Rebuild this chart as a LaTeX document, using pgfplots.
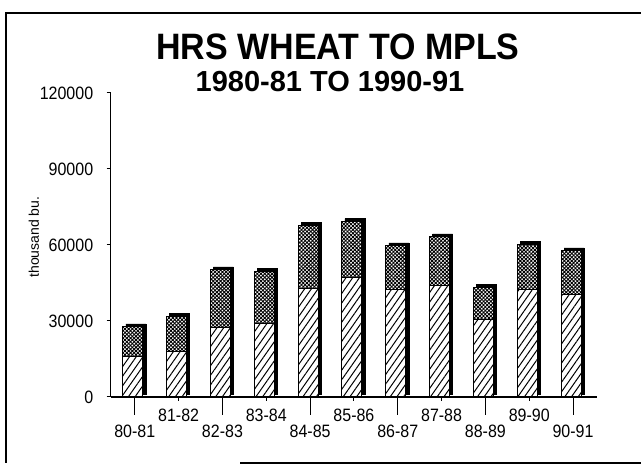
\documentclass[border=0pt]{standalone}
\usepackage{fontspec}
\setmainfont{Liberation Sans}
\usepackage{pgfplots}
\pgfplotsset{compat=1.18}
\usetikzlibrary{patterns,patterns.meta}
\begin{document}
\begin{tikzpicture}[x=1bp,y=1bp]
\path[use as bounding box] (0,0) rectangle (641,465);
% outer frame
\draw[line width=1.3bp] (641,452) -- (6,452) -- (6,2);
\draw[line width=1.3bp] (240,2) -- (641,2);
% titles
\node[font=\bfseries\fontsize{34bp}{34bp}\selectfont] at (338,418) {\scalebox{1}[1.08]{HRS WHEAT TO MPLS}};
\node[font=\bfseries\fontsize{29bp}{29bp}\selectfont] at (330,383) {1980-81 TO 1990-91};
\begin{axis}[
  at={(110.7bp,68bp)}, anchor=south west, scale only axis,
  width=486bp, height=304bp,
  xmin=-0.55, xmax=10.54, ymin=0, ymax=120000,
  axis x line*=bottom, axis y line*=left,
  axis line style={-, line width=1.3bp},
  major tick length=4bp, tick align=outside,
  tick style={line width=1bp, black},
  ytick={0,30000,60000,90000,120000}, scaled y ticks=false,
  yticklabel={\pgfmathprintnumber[fixed,precision=0,1000 sep={},assume math mode=true]{\tick}},
  yticklabel style={font=\fontsize{16bp}{16bp}\selectfont, anchor=east, xshift=-10bp, yscale=1.12},
  ylabel={thousand bu.},
  ylabel style={at={(rel axis cs:-0.158,0.526)}, anchor=center, font=\fontsize{14bp}{14bp}\selectfont},
  xtick={1,3,5,7,9},
  xticklabels={81-82,83-84,85-86,87-88,89-90},
  xticklabel style={font=\fontsize{16bp}{16bp}\selectfont, anchor=north, yshift=-4bp, yscale=1.12},
  extra x ticks={0,2,4,6,8,10},
  extra x tick labels={80-81,82-83,84-85,86-87,88-89,90-91},
  extra x tick style={major tick length=18bp, xticklabel style={yshift=-2bp}},
  ybar, bar width=20bp,
  clip=false,
]
% shadow
\addplot[fill=black, draw=black, bar shift=1bp, yshift=3bp] coordinates {
 (0,27700) (1,31700) (2,50200) (3,49500) (4,67700) (5,69200)
 (6,59700) (7,63200) (8,43200) (9,60200) (10,57700)};
% total (crosshatch)
\addplot[fill=white, draw=black, line width=1bp, bar shift=-2bp,
  postaction={pattern={Hatch[angle=45,distance=2.6bp,line width=0.9bp]}}] coordinates {
 (0,27700) (1,31700) (2,50200) (3,49500) (4,67700) (5,69200)
 (6,59700) (7,63200) (8,43200) (9,60200) (10,57700)};
% lower part (diagonal lines)
\addplot[fill=white, draw=black, line width=1bp, bar shift=-2bp,
  postaction={pattern={Lines[angle=55,distance=5.5bp,line width=1bp]}}] coordinates {
 (0,16000) (1,18000) (2,27500) (3,29000) (4,43000) (5,47000)
 (6,42500) (7,44000) (8,30500) (9,42500) (10,40500)};
\end{axis}
\end{tikzpicture}
\end{document}
